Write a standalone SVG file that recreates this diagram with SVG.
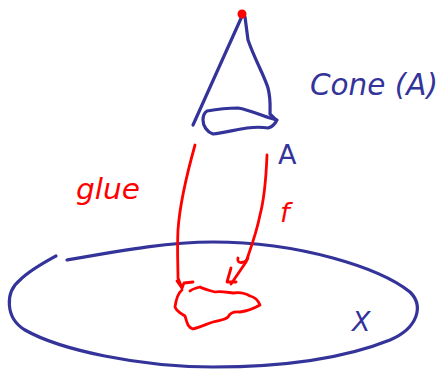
<svg xmlns="http://www.w3.org/2000/svg" width="445" height="371" viewBox="0 0 445 371">
<style>
.b{fill:none;stroke:#33339a;stroke-width:3.2;stroke-linecap:round;stroke-linejoin:round}
.r{fill:none;stroke:#ff0000;stroke-width:2.8;stroke-linecap:round;stroke-linejoin:round}
.tb{fill:#33339a;font-family:"DejaVu Sans",sans-serif}
.tr{fill:#ff0000;font-family:"DejaVu Sans",sans-serif}
</style>
<rect width="445" height="371" fill="#fff"/>
<g id="cone">
<path class="b" d="M242.5,15 L193,125"/>
<path class="b" d="M245,17 L248,40 C255,60 264,75 268,88 C271,100 270,108 270,114 L276,120"/>
<path class="b" d="M207,111 C218,109 230,108 238,108 C250,110 262,116 270,118 L277,120 C275,124 272,127 268,128 C262,127 255,127 247,128 C235,130 222,133 213,134 C207,132 203,126 203,120 C203,116 204,113 207,111 Z"/>
<circle cx="242" cy="14" r="4.5" fill="#ff0000"/>
<text class="tb" x="310" y="95" font-size="31" font-style="italic" textLength="128" lengthAdjust="spacingAndGlyphs">Cone (A)</text>
<text class="tb" x="278" y="164" font-size="27">A</text>
</g>
<g id="space">
<path class="b" d="M67,260 C130,249 170,242 213,242 C300,242 380,268 410,292 C424,306 418,328 390,340 C340,360 280,367 213,367 C140,367 60,350 25,330 C5,318 5,292 20,280 C30,270 45,262 56,256"/>
<text class="tb" x="352" y="331" font-size="27" font-style="italic">X</text>
</g>
<g id="glueblob">
<path class="r" d="M182,290 C178,293 176,300 175,307 C177,312 182,314 185,316 C187,322 187,327 193,329 C200,327 207,324 213,322 C220,320 225,320 228,317 C230,313 233,311 240,312 C247,311 253,309 260,305 C258,300 255,297 250,296 C245,293 240,292 233,293 C225,292 220,291 215,292 C208,290 203,289 200,287 C196,288 192,289 190,291"/>
</g>
<g id="connectors">
<path class="r" d="M195,145 C188,170 180,200 178,230 C177,250 178,265 178,278 L182,288"/>
<path class="r" d="M177,281 L182,288 L184,283 L193,282"/>
<path class="r" d="M267,155 C266,180 264,200 260,215 C256,235 250,250 246,262 L231,284"/>
<path class="r" d="M231,268 L227,282 L236,282"/>
<path class="r" d="M238,258 C236,265 246,263 248,258"/>
<text class="tr" x="76" y="199" font-size="28" font-style="italic" textLength="64" lengthAdjust="spacingAndGlyphs">glue</text>
<text class="tr" x="280" y="222" font-size="27" font-style="italic">f</text>
</g>
</svg>
